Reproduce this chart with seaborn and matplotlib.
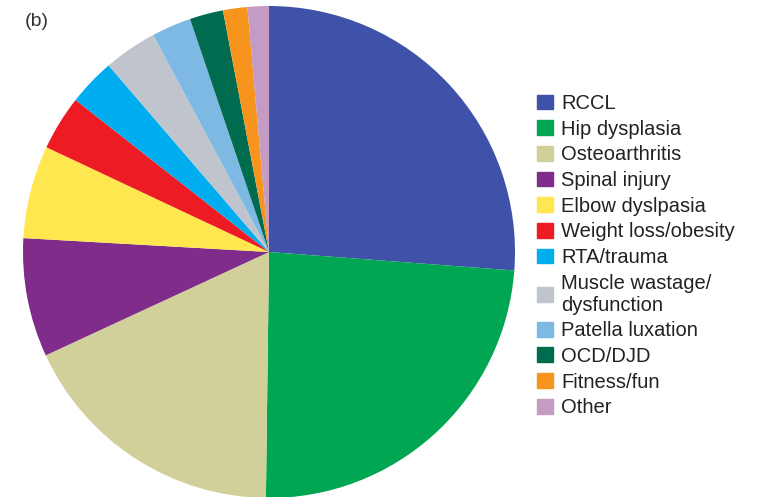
import matplotlib.pyplot as plt
import matplotlib.patches as mpatches
import seaborn as sns

# values (percent of dogs)
labels = ["RCCL", "Hip dysplasia", "Osteoarthritis", "Spinal injury",
          "Elbow dyslpasia", "Weight loss/obesity", "RTA/trauma",
          "Muscle wastage/\ndysfunction", "Patella luxation", "OCD/DJD",
          "Fitness/fun", "Other"]
values = [26.2, 24.0, 17.9, 7.8, 6.1, 3.6, 3.1, 3.5, 2.6, 2.2, 1.6, 1.4]
colours = ["#3F51A8", "#00A651", "#D2D09A", "#7F2C8A", "#FFE84F", "#ED1C24",
           "#00AEEF", "#C0C4CC", "#7DB9E3", "#006B4F", "#F7941D", "#C39BC3"]

sns.set_theme(style="white")
plt.rcParams['font.family'] = ['Liberation Sans', 'DejaVu Sans']
palette = sns.color_palette(colours)

fig = plt.figure(figsize=(7.62, 4.97), dpi=100)
ax = fig.add_axes([23 / 762, -1 / 497, 492 / 762, 492 / 497])
ax.pie(values, colors=palette, startangle=90, counterclock=False,
       radius=1.0, wedgeprops=dict(linewidth=0))
ax.set_xlim(-1, 1)
ax.set_ylim(-1, 1)
ax.set_aspect("equal")
ax.axis("off")

handles = [mpatches.Patch(color=c, label=l) for c, l in zip(palette, labels)]
fig.legend(handles=handles, loc="upper left",
           bbox_to_anchor=(529 / 762, 1 - 86 / 497), frameon=False,
           fontsize=14.5, handlelength=0.8, handleheight=0.75,
           handletextpad=0.4, labelspacing=0.33, borderaxespad=0,
           labelcolor="#222222")

fig.text(25 / 762, 1 - 22 / 497, "(b)", fontsize=14, va="center",
         ha="left", color="#333333")

plt.savefig("out.png", dpi=100)
